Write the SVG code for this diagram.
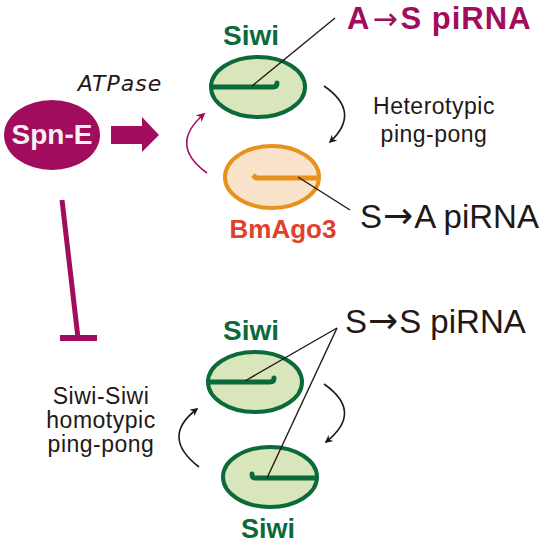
<svg xmlns="http://www.w3.org/2000/svg" width="550" height="545" viewBox="0 0 550 545">
<style>
.siwi{fill:#d9e5bb;stroke:#0b6a3a;stroke-width:4}
.ago{fill:#f9e3ca;stroke:#e8911c;stroke-width:4}
.gs{fill:none;stroke:#0b6a3a;stroke-width:5;stroke-linecap:round;stroke-linejoin:round}
.os{fill:none;stroke:#e8911c;stroke-width:5;stroke-linejoin:round}
.ann{stroke:#231815;stroke-width:1.4;fill:none}
.cur{fill:none;stroke:#231815;stroke-width:1.6}
.lbl{font-family:"Liberation Sans",Arial,"DejaVu Sans",sans-serif}
.b{font-weight:bold}
.sm{font-size:23px;letter-spacing:0.5px;fill:#231815}
.ar{font-family:"DejaVu Sans",sans-serif;font-weight:normal}
</style>
<defs>
<marker id="ah" viewBox="0 0 10 10" refX="8" refY="5" markerWidth="8" markerHeight="8" markerUnits="userSpaceOnUse" orient="auto"><path d="M0,0 L10,5 L0,10 L3,5 Z" fill="#231815"/></marker>
<marker id="ahp" viewBox="0 0 10 10" refX="8" refY="5" markerWidth="9" markerHeight="9" markerUnits="userSpaceOnUse" orient="auto"><path d="M0,0 L10,5 L0,10 L3,5 Z" fill="#a20c5c"/></marker>
</defs>

<g id="spn-e">
<ellipse cx="52" cy="135" rx="48" ry="35" fill="#a20c5c"/>
<text x="52" y="144" text-anchor="middle" class="lbl b" font-size="28" fill="#f4f0f4">Spn-E</text>
</g>

<g id="atpase">
<text x="120" y="91" text-anchor="middle" font-family="DejaVu Sans,sans-serif" font-style="italic" font-size="22" letter-spacing="1" fill="#231815">ATPase</text>
</g>

<g id="siwi-top">
<text x="251" y="45" text-anchor="middle" class="lbl b" font-size="28" fill="#0b6a3a">Siwi</text>
<ellipse class="siwi" cx="258" cy="87" rx="47" ry="30"/>
<path class="gs" d="M212,87 L273,87 Q277,87 277,83"/>
</g>

<g id="bmago3">
<ellipse class="ago" cx="272" cy="177" rx="47" ry="31"/>
<path class="os" d="M318,178 L256,178 L253,175"/>
<text x="283" y="238" text-anchor="middle" class="lbl b" font-size="26" fill="#e0412b">BmAgo3</text>
</g>

<g id="siwi-mid">
<text x="251" y="340" text-anchor="middle" class="lbl b" font-size="28" fill="#0b6a3a">Siwi</text>
<ellipse class="siwi" cx="255" cy="382" rx="47" ry="30"/>
<path class="gs" d="M209,382 L270,382 Q274,382 274,378"/>
</g>

<g id="siwi-bot">
<ellipse class="siwi" cx="270" cy="477" rx="47" ry="30"/>
<path class="gs" d="M316,478 L255,478 Q252,478 252,474"/>
<text x="268" y="538" text-anchor="middle" class="lbl b" font-size="27" fill="#0b6a3a">Siwi</text>
</g>

<g id="labels">
<text x="347" y="29" class="lbl b" font-size="31" letter-spacing="1" fill="#a20c5c">A<tspan class="ar" font-size="30" dx="2">→</tspan><tspan dx="2">S piRNA</tspan></text>
<text x="360" y="228" class="lbl" font-size="33" fill="#231815">S<tspan class="ar" font-size="36" dx="1">→</tspan><tspan dx="1">A piRNA</tspan></text>
<text x="345" y="333" class="lbl" font-size="33" fill="#231815">S<tspan class="ar" font-size="36" dx="1">→</tspan><tspan dx="1">S piRNA</tspan></text>
<text x="434" y="114" text-anchor="middle" class="lbl sm">Heterotypic</text>
<text x="434" y="142" text-anchor="middle" class="lbl sm">ping-pong</text>
<text x="101" y="404" text-anchor="middle" class="lbl sm">Siwi-Siwi</text>
<text x="101" y="428" text-anchor="middle" class="lbl sm">homotypic</text>
<text x="101" y="452" text-anchor="middle" class="lbl sm">ping-pong</text>
</g>

<g id="connectors">
<path d="M111,126 H142 V117 L159,135 L142,152 V144 H111 Z" fill="#a20c5c"/>
<path d="M207,173 Q168,145 204,114" fill="none" stroke="#a20c5c" stroke-width="1.6" marker-end="url(#ahp)"/>
<path class="cur" d="M324,86 Q362,112 330,142" marker-end="url(#ah)"/>
<path class="cur" d="M199,467 Q160,437 197,409" marker-end="url(#ah)"/>
<path class="cur" d="M324,384 Q364,412 326,442" marker-end="url(#ah)"/>
<line class="ann" x1="252" y1="86" x2="335" y2="18"/>
<line class="ann" x1="298" y1="177" x2="350" y2="210"/>
<line class="ann" x1="245" y1="381" x2="337" y2="328"/>
<line class="ann" x1="267" y1="478" x2="337" y2="328"/>
<path d="M62,200 L78,338" stroke="#a20c5c" stroke-width="5" fill="none"/>
<path d="M60,338 H97" stroke="#a20c5c" stroke-width="6" fill="none"/>
</g>
</svg>
